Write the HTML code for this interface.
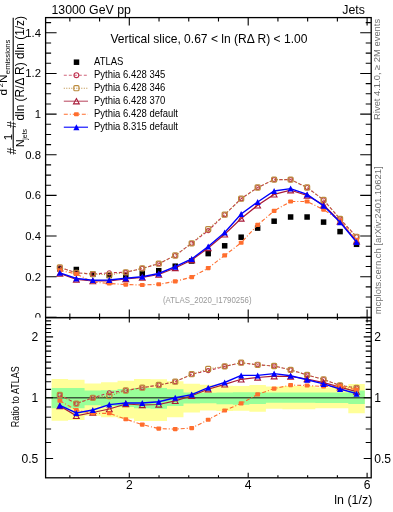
<!DOCTYPE html>
<html><head><meta charset="utf-8"><style>
html,body{margin:0;padding:0;background:#fff;width:393px;height:512px;overflow:hidden;position:relative}
text{font-family:"Liberation Sans",sans-serif}
</style></head><body>
<svg width="393" height="512" viewBox="0 0 393 512" style="position:absolute;left:0;top:0;will-change:transform">
<defs><clipPath id="cm"><rect x="45.6" y="17.6" width="325.6" height="300"/></clipPath><clipPath id="cr"><rect x="45.6" y="317.6" width="325.6" height="160.2"/></clipPath></defs>
<path d="M51.61,379.00 L68.09,379.00 L68.09,379.70 L84.57,379.70 L84.57,383.60 L101.06,383.60 L101.06,382.20 L117.54,382.20 L117.54,380.80 L134.02,380.80 L134.02,379.00 L150.51,379.00 L150.51,379.20 L166.99,379.20 L166.99,381.20 L183.47,381.20 L183.47,383.70 L199.96,383.70 L199.96,384.80 L216.44,384.80 L216.44,385.80 L232.92,385.80 L232.92,385.90 L249.40,385.90 L249.40,385.00 L265.89,385.00 L265.89,386.50 L282.37,386.50 L282.37,386.00 L298.85,386.00 L298.85,386.00 L315.34,386.00 L315.34,387.50 L331.82,387.50 L331.82,386.00 L348.30,386.00 L348.30,383.90 L364.79,383.90 L364.79,413.20 L348.30,413.20 L348.30,408.30 L331.82,408.30 L331.82,408.30 L315.34,408.30 L315.34,409.30 L298.85,409.30 L298.85,409.30 L282.37,409.30 L282.37,408.70 L265.89,408.70 L265.89,411.70 L249.40,411.70 L249.40,410.80 L232.92,410.80 L232.92,411.00 L216.44,411.00 L216.44,410.50 L199.96,410.50 L199.96,412.50 L183.47,412.50 L183.47,417.20 L166.99,417.20 L166.99,421.00 L150.51,421.00 L150.51,421.00 L134.02,421.00 L134.02,418.40 L117.54,418.40 L117.54,417.20 L101.06,417.20 L101.06,415.80 L84.57,415.80 L84.57,419.90 L68.09,419.90 L68.09,420.70 L51.61,420.70 Z" fill="#ffff99"/>
<path d="M51.61,388.00 L68.09,388.00 L68.09,388.00 L84.57,388.00 L84.57,390.60 L101.06,390.60 L101.06,390.20 L117.54,390.20 L117.54,389.00 L134.02,389.00 L134.02,388.10 L150.51,388.10 L150.51,388.10 L166.99,388.10 L166.99,389.30 L183.47,389.30 L183.47,392.50 L199.96,392.50 L199.96,392.80 L216.44,392.80 L216.44,392.60 L232.92,392.60 L232.92,392.20 L249.40,392.20 L249.40,392.20 L265.89,392.20 L265.89,392.40 L282.37,392.40 L282.37,392.40 L298.85,392.40 L298.85,392.40 L315.34,392.40 L315.34,392.40 L331.82,392.40 L331.82,392.40 L348.30,392.40 L348.30,390.60 L364.79,390.60 L364.79,404.10 L348.30,404.10 L348.30,403.00 L331.82,403.00 L331.82,403.00 L315.34,403.00 L315.34,402.80 L298.85,402.80 L298.85,402.80 L282.37,402.80 L282.37,402.80 L265.89,402.80 L265.89,404.10 L249.40,404.10 L249.40,404.70 L232.92,404.70 L232.92,404.20 L216.44,404.20 L216.44,403.20 L199.96,403.20 L199.96,403.50 L183.47,403.50 L183.47,406.00 L166.99,406.00 L166.99,408.80 L150.51,408.80 L150.51,408.30 L134.02,408.30 L134.02,407.00 L117.54,407.00 L117.54,406.00 L101.06,406.00 L101.06,405.20 L84.57,405.20 L84.57,408.30 L68.09,408.30 L68.09,408.30 L51.61,408.30 Z" fill="#99ff99"/>
<line x1="45.6" x2="371.2" y1="397.75" y2="397.75" stroke="#3c5c3c" stroke-width="1.4"/>
<g clip-path="url(#cr)">
<polyline points="59.85,395.00 76.33,403.60 92.82,397.80 109.30,392.80 125.78,390.50 142.27,387.70 158.75,385.00 175.23,381.70 191.71,374.20 208.20,370.60 224.68,366.40 241.16,362.70 257.65,364.80 274.13,366.00 290.61,369.90 307.10,375.00 323.58,379.50 340.06,385.40 356.54,388.00" fill="none" stroke="#c0304f" stroke-width="1.1" stroke-dasharray="3,2"/>
<circle cx="59.85" cy="395.00" r="2.00" fill="none" stroke="#c0304f" stroke-width="1.1"/>
<circle cx="76.33" cy="403.60" r="2.00" fill="none" stroke="#c0304f" stroke-width="1.1"/>
<circle cx="92.82" cy="397.80" r="2.00" fill="none" stroke="#c0304f" stroke-width="1.1"/>
<circle cx="109.30" cy="392.80" r="2.00" fill="none" stroke="#c0304f" stroke-width="1.1"/>
<circle cx="125.78" cy="390.50" r="2.00" fill="none" stroke="#c0304f" stroke-width="1.1"/>
<circle cx="142.27" cy="387.70" r="2.00" fill="none" stroke="#c0304f" stroke-width="1.1"/>
<circle cx="158.75" cy="385.00" r="2.00" fill="none" stroke="#c0304f" stroke-width="1.1"/>
<circle cx="175.23" cy="381.70" r="2.00" fill="none" stroke="#c0304f" stroke-width="1.1"/>
<circle cx="191.71" cy="374.20" r="2.00" fill="none" stroke="#c0304f" stroke-width="1.1"/>
<circle cx="208.20" cy="370.60" r="2.00" fill="none" stroke="#c0304f" stroke-width="1.1"/>
<circle cx="224.68" cy="366.40" r="2.00" fill="none" stroke="#c0304f" stroke-width="1.1"/>
<circle cx="241.16" cy="362.70" r="2.00" fill="none" stroke="#c0304f" stroke-width="1.1"/>
<circle cx="257.65" cy="364.80" r="2.00" fill="none" stroke="#c0304f" stroke-width="1.1"/>
<circle cx="274.13" cy="366.00" r="2.00" fill="none" stroke="#c0304f" stroke-width="1.1"/>
<circle cx="290.61" cy="369.90" r="2.00" fill="none" stroke="#c0304f" stroke-width="1.1"/>
<circle cx="307.10" cy="375.00" r="2.00" fill="none" stroke="#c0304f" stroke-width="1.1"/>
<circle cx="323.58" cy="379.50" r="2.00" fill="none" stroke="#c0304f" stroke-width="1.1"/>
<circle cx="340.06" cy="385.40" r="2.00" fill="none" stroke="#c0304f" stroke-width="1.1"/>
<circle cx="356.54" cy="388.00" r="2.00" fill="none" stroke="#c0304f" stroke-width="1.1"/>
<polyline points="59.85,395.00 76.33,403.60 92.82,397.80 109.30,396.00 125.78,390.50 142.27,387.70 158.75,385.00 175.23,381.70 191.71,374.20 208.20,369.00 224.68,366.40 241.16,362.70 257.65,364.80 274.13,366.00 290.61,369.90 307.10,375.00 323.58,379.50 340.06,385.40 356.54,388.00" fill="none" stroke="#bb8a3c" stroke-width="1.1" stroke-dasharray="1,1.5"/>
<rect x="57.30" y="392.45" width="5.10" height="5.10" rx="1.1" fill="none" stroke="#bb8a3c" stroke-width="1.2"/>
<rect x="73.78" y="401.05" width="5.10" height="5.10" rx="1.1" fill="none" stroke="#bb8a3c" stroke-width="1.2"/>
<rect x="90.27" y="395.25" width="5.10" height="5.10" rx="1.1" fill="none" stroke="#bb8a3c" stroke-width="1.2"/>
<rect x="106.75" y="393.45" width="5.10" height="5.10" rx="1.1" fill="none" stroke="#bb8a3c" stroke-width="1.2"/>
<rect x="123.23" y="387.95" width="5.10" height="5.10" rx="1.1" fill="none" stroke="#bb8a3c" stroke-width="1.2"/>
<rect x="139.72" y="385.15" width="5.10" height="5.10" rx="1.1" fill="none" stroke="#bb8a3c" stroke-width="1.2"/>
<rect x="156.20" y="382.45" width="5.10" height="5.10" rx="1.1" fill="none" stroke="#bb8a3c" stroke-width="1.2"/>
<rect x="172.68" y="379.15" width="5.10" height="5.10" rx="1.1" fill="none" stroke="#bb8a3c" stroke-width="1.2"/>
<rect x="189.16" y="371.65" width="5.10" height="5.10" rx="1.1" fill="none" stroke="#bb8a3c" stroke-width="1.2"/>
<rect x="205.65" y="366.45" width="5.10" height="5.10" rx="1.1" fill="none" stroke="#bb8a3c" stroke-width="1.2"/>
<rect x="222.13" y="363.85" width="5.10" height="5.10" rx="1.1" fill="none" stroke="#bb8a3c" stroke-width="1.2"/>
<rect x="238.61" y="360.15" width="5.10" height="5.10" rx="1.1" fill="none" stroke="#bb8a3c" stroke-width="1.2"/>
<rect x="255.10" y="362.25" width="5.10" height="5.10" rx="1.1" fill="none" stroke="#bb8a3c" stroke-width="1.2"/>
<rect x="271.58" y="363.45" width="5.10" height="5.10" rx="1.1" fill="none" stroke="#bb8a3c" stroke-width="1.2"/>
<rect x="288.06" y="367.35" width="5.10" height="5.10" rx="1.1" fill="none" stroke="#bb8a3c" stroke-width="1.2"/>
<rect x="304.55" y="372.45" width="5.10" height="5.10" rx="1.1" fill="none" stroke="#bb8a3c" stroke-width="1.2"/>
<rect x="321.03" y="376.95" width="5.10" height="5.10" rx="1.1" fill="none" stroke="#bb8a3c" stroke-width="1.2"/>
<rect x="337.51" y="382.85" width="5.10" height="5.10" rx="1.1" fill="none" stroke="#bb8a3c" stroke-width="1.2"/>
<rect x="353.99" y="385.45" width="5.10" height="5.10" rx="1.1" fill="none" stroke="#bb8a3c" stroke-width="1.2"/>
<polyline points="59.85,406.00 76.33,415.80 92.82,412.50 109.30,409.00 125.78,404.00 142.27,405.00 158.75,404.50 175.23,400.90 191.71,395.70 208.20,389.20 224.68,384.30 241.16,379.30 257.65,377.50 274.13,376.20 290.61,376.50 307.10,379.00 323.58,382.60 340.06,387.20 356.54,391.60" fill="none" stroke="#a81a38" stroke-width="1.2"/>
<path d="M59.85,403.35 L62.75,408.65 L56.95,408.65 Z" fill="none" stroke="#a81a38" stroke-width="1.1"/>
<path d="M76.33,413.15 L79.23,418.45 L73.43,418.45 Z" fill="none" stroke="#a81a38" stroke-width="1.1"/>
<path d="M92.82,409.85 L95.72,415.15 L89.92,415.15 Z" fill="none" stroke="#a81a38" stroke-width="1.1"/>
<path d="M109.30,406.35 L112.20,411.65 L106.40,411.65 Z" fill="none" stroke="#a81a38" stroke-width="1.1"/>
<path d="M125.78,401.35 L128.68,406.65 L122.88,406.65 Z" fill="none" stroke="#a81a38" stroke-width="1.1"/>
<path d="M142.27,402.35 L145.17,407.65 L139.37,407.65 Z" fill="none" stroke="#a81a38" stroke-width="1.1"/>
<path d="M158.75,401.85 L161.65,407.15 L155.85,407.15 Z" fill="none" stroke="#a81a38" stroke-width="1.1"/>
<path d="M175.23,398.25 L178.13,403.55 L172.33,403.55 Z" fill="none" stroke="#a81a38" stroke-width="1.1"/>
<path d="M191.71,393.05 L194.61,398.35 L188.81,398.35 Z" fill="none" stroke="#a81a38" stroke-width="1.1"/>
<path d="M208.20,386.55 L211.10,391.85 L205.30,391.85 Z" fill="none" stroke="#a81a38" stroke-width="1.1"/>
<path d="M224.68,381.65 L227.58,386.95 L221.78,386.95 Z" fill="none" stroke="#a81a38" stroke-width="1.1"/>
<path d="M241.16,376.65 L244.06,381.95 L238.26,381.95 Z" fill="none" stroke="#a81a38" stroke-width="1.1"/>
<path d="M257.65,374.85 L260.55,380.15 L254.75,380.15 Z" fill="none" stroke="#a81a38" stroke-width="1.1"/>
<path d="M274.13,373.55 L277.03,378.85 L271.23,378.85 Z" fill="none" stroke="#a81a38" stroke-width="1.1"/>
<path d="M290.61,373.85 L293.51,379.15 L287.71,379.15 Z" fill="none" stroke="#a81a38" stroke-width="1.1"/>
<path d="M307.10,376.35 L310.00,381.65 L304.20,381.65 Z" fill="none" stroke="#a81a38" stroke-width="1.1"/>
<path d="M323.58,379.95 L326.48,385.25 L320.68,385.25 Z" fill="none" stroke="#a81a38" stroke-width="1.1"/>
<path d="M340.06,384.55 L342.96,389.85 L337.16,389.85 Z" fill="none" stroke="#a81a38" stroke-width="1.1"/>
<path d="M356.54,388.95 L359.44,394.25 L353.64,394.25 Z" fill="none" stroke="#a81a38" stroke-width="1.1"/>
<polyline points="59.85,400.80 76.33,410.10 92.82,413.30 109.30,413.30 125.78,419.20 142.27,424.60 158.75,428.60 175.23,429.10 191.71,428.10 208.20,419.80 224.68,410.50 241.16,403.40 257.65,394.40 274.13,388.60 290.61,385.10 307.10,385.50 323.58,386.50 340.06,386.00 356.54,389.80" fill="none" stroke="#ff6e2e" stroke-width="1.15" stroke-dasharray="4,2,1,2"/>
<rect x="57.45" y="398.75" width="4.80" height="4.10" rx="0.8" fill="#ff6e2e"/>
<rect x="73.93" y="408.05" width="4.80" height="4.10" rx="0.8" fill="#ff6e2e"/>
<rect x="90.42" y="411.25" width="4.80" height="4.10" rx="0.8" fill="#ff6e2e"/>
<rect x="106.90" y="411.25" width="4.80" height="4.10" rx="0.8" fill="#ff6e2e"/>
<rect x="123.38" y="417.15" width="4.80" height="4.10" rx="0.8" fill="#ff6e2e"/>
<rect x="139.87" y="422.55" width="4.80" height="4.10" rx="0.8" fill="#ff6e2e"/>
<rect x="156.35" y="426.55" width="4.80" height="4.10" rx="0.8" fill="#ff6e2e"/>
<rect x="172.83" y="427.05" width="4.80" height="4.10" rx="0.8" fill="#ff6e2e"/>
<rect x="189.31" y="426.05" width="4.80" height="4.10" rx="0.8" fill="#ff6e2e"/>
<rect x="205.80" y="417.75" width="4.80" height="4.10" rx="0.8" fill="#ff6e2e"/>
<rect x="222.28" y="408.45" width="4.80" height="4.10" rx="0.8" fill="#ff6e2e"/>
<rect x="238.76" y="401.35" width="4.80" height="4.10" rx="0.8" fill="#ff6e2e"/>
<rect x="255.25" y="392.35" width="4.80" height="4.10" rx="0.8" fill="#ff6e2e"/>
<rect x="271.73" y="386.55" width="4.80" height="4.10" rx="0.8" fill="#ff6e2e"/>
<rect x="288.21" y="383.05" width="4.80" height="4.10" rx="0.8" fill="#ff6e2e"/>
<rect x="304.70" y="383.45" width="4.80" height="4.10" rx="0.8" fill="#ff6e2e"/>
<rect x="321.18" y="384.45" width="4.80" height="4.10" rx="0.8" fill="#ff6e2e"/>
<rect x="337.66" y="383.95" width="4.80" height="4.10" rx="0.8" fill="#ff6e2e"/>
<rect x="354.14" y="387.75" width="4.80" height="4.10" rx="0.8" fill="#ff6e2e"/>
<polyline points="59.85,405.40 76.33,413.00 92.82,410.00 109.30,404.60 125.78,403.00 142.27,403.00 158.75,401.80 175.23,397.80 191.71,394.60 208.20,387.70 224.68,382.50 241.16,375.40 257.65,375.40 274.13,373.60 290.61,375.80 307.10,379.70 323.58,383.90 340.06,389.00 356.54,393.70" fill="none" stroke="#0000ff" stroke-width="1.4"/>
<path d="M59.85,402.40 L62.90,408.40 L56.80,408.40 Z" fill="#0000ff"/>
<path d="M76.33,410.00 L79.38,416.00 L73.28,416.00 Z" fill="#0000ff"/>
<path d="M92.82,407.00 L95.87,413.00 L89.77,413.00 Z" fill="#0000ff"/>
<path d="M109.30,401.60 L112.35,407.60 L106.25,407.60 Z" fill="#0000ff"/>
<path d="M125.78,400.00 L128.83,406.00 L122.73,406.00 Z" fill="#0000ff"/>
<path d="M142.27,400.00 L145.32,406.00 L139.22,406.00 Z" fill="#0000ff"/>
<path d="M158.75,398.80 L161.80,404.80 L155.70,404.80 Z" fill="#0000ff"/>
<path d="M175.23,394.80 L178.28,400.80 L172.18,400.80 Z" fill="#0000ff"/>
<path d="M191.71,391.60 L194.76,397.60 L188.66,397.60 Z" fill="#0000ff"/>
<path d="M208.20,384.70 L211.25,390.70 L205.15,390.70 Z" fill="#0000ff"/>
<path d="M224.68,379.50 L227.73,385.50 L221.63,385.50 Z" fill="#0000ff"/>
<path d="M241.16,372.40 L244.21,378.40 L238.11,378.40 Z" fill="#0000ff"/>
<path d="M257.65,372.40 L260.70,378.40 L254.60,378.40 Z" fill="#0000ff"/>
<path d="M274.13,370.60 L277.18,376.60 L271.08,376.60 Z" fill="#0000ff"/>
<path d="M290.61,372.80 L293.66,378.80 L287.56,378.80 Z" fill="#0000ff"/>
<path d="M307.10,376.70 L310.15,382.70 L304.05,382.70 Z" fill="#0000ff"/>
<path d="M323.58,380.90 L326.63,386.90 L320.53,386.90 Z" fill="#0000ff"/>
<path d="M340.06,386.00 L343.11,392.00 L337.01,392.00 Z" fill="#0000ff"/>
<path d="M356.54,390.70 L359.59,396.70 L353.49,396.70 Z" fill="#0000ff"/>
</g>
<g clip-path="url(#cm)">
<rect x="57.10" y="266.15" width="5.50" height="5.50" fill="#000"/>
<rect x="73.58" y="266.75" width="5.50" height="5.50" fill="#000"/>
<rect x="90.07" y="271.55" width="5.50" height="5.50" fill="#000"/>
<rect x="106.55" y="272.75" width="5.50" height="5.50" fill="#000"/>
<rect x="123.03" y="272.55" width="5.50" height="5.50" fill="#000"/>
<rect x="139.52" y="270.55" width="5.50" height="5.50" fill="#000"/>
<rect x="156.00" y="267.95" width="5.50" height="5.50" fill="#000"/>
<rect x="172.48" y="263.45" width="5.50" height="5.50" fill="#000"/>
<rect x="188.96" y="258.25" width="5.50" height="5.50" fill="#000"/>
<rect x="205.45" y="250.85" width="5.50" height="5.50" fill="#000"/>
<rect x="221.93" y="243.05" width="5.50" height="5.50" fill="#000"/>
<rect x="238.41" y="234.45" width="5.50" height="5.50" fill="#000"/>
<rect x="254.90" y="225.35" width="5.50" height="5.50" fill="#000"/>
<rect x="271.38" y="218.45" width="5.50" height="5.50" fill="#000"/>
<rect x="287.86" y="214.25" width="5.50" height="5.50" fill="#000"/>
<rect x="304.35" y="214.25" width="5.50" height="5.50" fill="#000"/>
<rect x="320.83" y="219.35" width="5.50" height="5.50" fill="#000"/>
<rect x="337.31" y="228.85" width="5.50" height="5.50" fill="#000"/>
<rect x="353.79" y="241.55" width="5.50" height="5.50" fill="#000"/>
<polyline points="59.85,267.50 76.33,272.80 92.82,274.10 109.30,272.80 125.78,272.30 142.27,268.40 158.75,263.70 175.23,255.50 191.71,243.30 208.20,230.60 224.68,214.70 241.16,198.70 257.65,187.50 274.13,179.60 290.61,179.60 307.10,187.50 323.58,200.00 340.06,219.00 356.54,236.80" fill="none" stroke="#c0304f" stroke-width="1.1" stroke-dasharray="3,2"/>
<circle cx="59.85" cy="267.50" r="2.00" fill="none" stroke="#c0304f" stroke-width="1.1"/>
<circle cx="76.33" cy="272.80" r="2.00" fill="none" stroke="#c0304f" stroke-width="1.1"/>
<circle cx="92.82" cy="274.10" r="2.00" fill="none" stroke="#c0304f" stroke-width="1.1"/>
<circle cx="109.30" cy="272.80" r="2.00" fill="none" stroke="#c0304f" stroke-width="1.1"/>
<circle cx="125.78" cy="272.30" r="2.00" fill="none" stroke="#c0304f" stroke-width="1.1"/>
<circle cx="142.27" cy="268.40" r="2.00" fill="none" stroke="#c0304f" stroke-width="1.1"/>
<circle cx="158.75" cy="263.70" r="2.00" fill="none" stroke="#c0304f" stroke-width="1.1"/>
<circle cx="175.23" cy="255.50" r="2.00" fill="none" stroke="#c0304f" stroke-width="1.1"/>
<circle cx="191.71" cy="243.30" r="2.00" fill="none" stroke="#c0304f" stroke-width="1.1"/>
<circle cx="208.20" cy="230.60" r="2.00" fill="none" stroke="#c0304f" stroke-width="1.1"/>
<circle cx="224.68" cy="214.70" r="2.00" fill="none" stroke="#c0304f" stroke-width="1.1"/>
<circle cx="241.16" cy="198.70" r="2.00" fill="none" stroke="#c0304f" stroke-width="1.1"/>
<circle cx="257.65" cy="187.50" r="2.00" fill="none" stroke="#c0304f" stroke-width="1.1"/>
<circle cx="274.13" cy="179.60" r="2.00" fill="none" stroke="#c0304f" stroke-width="1.1"/>
<circle cx="290.61" cy="179.60" r="2.00" fill="none" stroke="#c0304f" stroke-width="1.1"/>
<circle cx="307.10" cy="187.50" r="2.00" fill="none" stroke="#c0304f" stroke-width="1.1"/>
<circle cx="323.58" cy="200.00" r="2.00" fill="none" stroke="#c0304f" stroke-width="1.1"/>
<circle cx="340.06" cy="219.00" r="2.00" fill="none" stroke="#c0304f" stroke-width="1.1"/>
<circle cx="356.54" cy="236.80" r="2.00" fill="none" stroke="#c0304f" stroke-width="1.1"/>
<polyline points="59.85,267.50 76.33,272.80 92.82,274.10 109.30,274.80 125.78,272.30 142.27,268.40 158.75,263.70 175.23,255.50 191.71,243.30 208.20,229.20 224.68,214.70 241.16,198.70 257.65,187.50 274.13,179.60 290.61,179.60 307.10,187.50 323.58,200.00 340.06,219.00 356.54,236.80" fill="none" stroke="#bb8a3c" stroke-width="1.1" stroke-dasharray="1,1.5"/>
<rect x="57.30" y="264.95" width="5.10" height="5.10" rx="1.1" fill="none" stroke="#bb8a3c" stroke-width="1.2"/>
<rect x="73.78" y="270.25" width="5.10" height="5.10" rx="1.1" fill="none" stroke="#bb8a3c" stroke-width="1.2"/>
<rect x="90.27" y="271.55" width="5.10" height="5.10" rx="1.1" fill="none" stroke="#bb8a3c" stroke-width="1.2"/>
<rect x="106.75" y="272.25" width="5.10" height="5.10" rx="1.1" fill="none" stroke="#bb8a3c" stroke-width="1.2"/>
<rect x="123.23" y="269.75" width="5.10" height="5.10" rx="1.1" fill="none" stroke="#bb8a3c" stroke-width="1.2"/>
<rect x="139.72" y="265.85" width="5.10" height="5.10" rx="1.1" fill="none" stroke="#bb8a3c" stroke-width="1.2"/>
<rect x="156.20" y="261.15" width="5.10" height="5.10" rx="1.1" fill="none" stroke="#bb8a3c" stroke-width="1.2"/>
<rect x="172.68" y="252.95" width="5.10" height="5.10" rx="1.1" fill="none" stroke="#bb8a3c" stroke-width="1.2"/>
<rect x="189.16" y="240.75" width="5.10" height="5.10" rx="1.1" fill="none" stroke="#bb8a3c" stroke-width="1.2"/>
<rect x="205.65" y="226.65" width="5.10" height="5.10" rx="1.1" fill="none" stroke="#bb8a3c" stroke-width="1.2"/>
<rect x="222.13" y="212.15" width="5.10" height="5.10" rx="1.1" fill="none" stroke="#bb8a3c" stroke-width="1.2"/>
<rect x="238.61" y="196.15" width="5.10" height="5.10" rx="1.1" fill="none" stroke="#bb8a3c" stroke-width="1.2"/>
<rect x="255.10" y="184.95" width="5.10" height="5.10" rx="1.1" fill="none" stroke="#bb8a3c" stroke-width="1.2"/>
<rect x="271.58" y="177.05" width="5.10" height="5.10" rx="1.1" fill="none" stroke="#bb8a3c" stroke-width="1.2"/>
<rect x="288.06" y="177.05" width="5.10" height="5.10" rx="1.1" fill="none" stroke="#bb8a3c" stroke-width="1.2"/>
<rect x="304.55" y="184.95" width="5.10" height="5.10" rx="1.1" fill="none" stroke="#bb8a3c" stroke-width="1.2"/>
<rect x="321.03" y="197.45" width="5.10" height="5.10" rx="1.1" fill="none" stroke="#bb8a3c" stroke-width="1.2"/>
<rect x="337.51" y="216.45" width="5.10" height="5.10" rx="1.1" fill="none" stroke="#bb8a3c" stroke-width="1.2"/>
<rect x="353.99" y="234.25" width="5.10" height="5.10" rx="1.1" fill="none" stroke="#bb8a3c" stroke-width="1.2"/>
<polyline points="59.85,273.50 76.33,279.50 92.82,281.00 109.30,281.00 125.78,279.00 142.27,277.50 158.75,274.50 175.23,268.00 191.71,260.00 208.20,248.00 224.68,234.30 241.16,218.50 257.65,205.30 274.13,194.40 290.61,190.20 307.10,195.50 323.58,205.00 340.06,221.50 356.54,241.30" fill="none" stroke="#a81a38" stroke-width="1.2"/>
<path d="M59.85,270.85 L62.75,276.15 L56.95,276.15 Z" fill="none" stroke="#a81a38" stroke-width="1.1"/>
<path d="M76.33,276.85 L79.23,282.15 L73.43,282.15 Z" fill="none" stroke="#a81a38" stroke-width="1.1"/>
<path d="M92.82,278.35 L95.72,283.65 L89.92,283.65 Z" fill="none" stroke="#a81a38" stroke-width="1.1"/>
<path d="M109.30,278.35 L112.20,283.65 L106.40,283.65 Z" fill="none" stroke="#a81a38" stroke-width="1.1"/>
<path d="M125.78,276.35 L128.68,281.65 L122.88,281.65 Z" fill="none" stroke="#a81a38" stroke-width="1.1"/>
<path d="M142.27,274.85 L145.17,280.15 L139.37,280.15 Z" fill="none" stroke="#a81a38" stroke-width="1.1"/>
<path d="M158.75,271.85 L161.65,277.15 L155.85,277.15 Z" fill="none" stroke="#a81a38" stroke-width="1.1"/>
<path d="M175.23,265.35 L178.13,270.65 L172.33,270.65 Z" fill="none" stroke="#a81a38" stroke-width="1.1"/>
<path d="M191.71,257.35 L194.61,262.65 L188.81,262.65 Z" fill="none" stroke="#a81a38" stroke-width="1.1"/>
<path d="M208.20,245.35 L211.10,250.65 L205.30,250.65 Z" fill="none" stroke="#a81a38" stroke-width="1.1"/>
<path d="M224.68,231.65 L227.58,236.95 L221.78,236.95 Z" fill="none" stroke="#a81a38" stroke-width="1.1"/>
<path d="M241.16,215.85 L244.06,221.15 L238.26,221.15 Z" fill="none" stroke="#a81a38" stroke-width="1.1"/>
<path d="M257.65,202.65 L260.55,207.95 L254.75,207.95 Z" fill="none" stroke="#a81a38" stroke-width="1.1"/>
<path d="M274.13,191.75 L277.03,197.05 L271.23,197.05 Z" fill="none" stroke="#a81a38" stroke-width="1.1"/>
<path d="M290.61,187.55 L293.51,192.85 L287.71,192.85 Z" fill="none" stroke="#a81a38" stroke-width="1.1"/>
<path d="M307.10,192.85 L310.00,198.15 L304.20,198.15 Z" fill="none" stroke="#a81a38" stroke-width="1.1"/>
<path d="M323.58,202.35 L326.48,207.65 L320.68,207.65 Z" fill="none" stroke="#a81a38" stroke-width="1.1"/>
<path d="M340.06,218.85 L342.96,224.15 L337.16,224.15 Z" fill="none" stroke="#a81a38" stroke-width="1.1"/>
<path d="M356.54,238.65 L359.44,243.95 L353.64,243.95 Z" fill="none" stroke="#a81a38" stroke-width="1.1"/>
<polyline points="59.85,270.30 76.33,274.00 92.82,282.00 109.30,283.50 125.78,284.60 142.27,285.00 158.75,284.30 175.23,281.40 191.71,277.10 208.20,268.10 224.68,255.40 241.16,242.70 257.65,224.90 274.13,210.90 290.61,201.50 307.10,201.50 323.58,209.60 340.06,220.60 356.54,240.00" fill="none" stroke="#ff6e2e" stroke-width="1.15" stroke-dasharray="4,2,1,2"/>
<rect x="57.45" y="268.25" width="4.80" height="4.10" rx="0.8" fill="#ff6e2e"/>
<rect x="73.93" y="271.95" width="4.80" height="4.10" rx="0.8" fill="#ff6e2e"/>
<rect x="90.42" y="279.95" width="4.80" height="4.10" rx="0.8" fill="#ff6e2e"/>
<rect x="106.90" y="281.45" width="4.80" height="4.10" rx="0.8" fill="#ff6e2e"/>
<rect x="123.38" y="282.55" width="4.80" height="4.10" rx="0.8" fill="#ff6e2e"/>
<rect x="139.87" y="282.95" width="4.80" height="4.10" rx="0.8" fill="#ff6e2e"/>
<rect x="156.35" y="282.25" width="4.80" height="4.10" rx="0.8" fill="#ff6e2e"/>
<rect x="172.83" y="279.35" width="4.80" height="4.10" rx="0.8" fill="#ff6e2e"/>
<rect x="189.31" y="275.05" width="4.80" height="4.10" rx="0.8" fill="#ff6e2e"/>
<rect x="205.80" y="266.05" width="4.80" height="4.10" rx="0.8" fill="#ff6e2e"/>
<rect x="222.28" y="253.35" width="4.80" height="4.10" rx="0.8" fill="#ff6e2e"/>
<rect x="238.76" y="240.65" width="4.80" height="4.10" rx="0.8" fill="#ff6e2e"/>
<rect x="255.25" y="222.85" width="4.80" height="4.10" rx="0.8" fill="#ff6e2e"/>
<rect x="271.73" y="208.85" width="4.80" height="4.10" rx="0.8" fill="#ff6e2e"/>
<rect x="288.21" y="199.45" width="4.80" height="4.10" rx="0.8" fill="#ff6e2e"/>
<rect x="304.70" y="199.45" width="4.80" height="4.10" rx="0.8" fill="#ff6e2e"/>
<rect x="321.18" y="207.55" width="4.80" height="4.10" rx="0.8" fill="#ff6e2e"/>
<rect x="337.66" y="218.55" width="4.80" height="4.10" rx="0.8" fill="#ff6e2e"/>
<rect x="354.14" y="237.95" width="4.80" height="4.10" rx="0.8" fill="#ff6e2e"/>
<polyline points="59.85,272.80 76.33,278.50 92.82,280.20 109.30,280.00 125.78,278.20 142.27,276.70 158.75,273.50 175.23,266.70 191.71,259.00 208.20,246.50 224.68,232.50 241.16,214.00 257.65,202.00 274.13,191.00 290.61,188.60 307.10,194.40 323.58,205.80 340.06,222.30 356.54,242.00" fill="none" stroke="#0000ff" stroke-width="1.4"/>
<path d="M59.85,269.80 L62.90,275.80 L56.80,275.80 Z" fill="#0000ff"/>
<path d="M76.33,275.50 L79.38,281.50 L73.28,281.50 Z" fill="#0000ff"/>
<path d="M92.82,277.20 L95.87,283.20 L89.77,283.20 Z" fill="#0000ff"/>
<path d="M109.30,277.00 L112.35,283.00 L106.25,283.00 Z" fill="#0000ff"/>
<path d="M125.78,275.20 L128.83,281.20 L122.73,281.20 Z" fill="#0000ff"/>
<path d="M142.27,273.70 L145.32,279.70 L139.22,279.70 Z" fill="#0000ff"/>
<path d="M158.75,270.50 L161.80,276.50 L155.70,276.50 Z" fill="#0000ff"/>
<path d="M175.23,263.70 L178.28,269.70 L172.18,269.70 Z" fill="#0000ff"/>
<path d="M191.71,256.00 L194.76,262.00 L188.66,262.00 Z" fill="#0000ff"/>
<path d="M208.20,243.50 L211.25,249.50 L205.15,249.50 Z" fill="#0000ff"/>
<path d="M224.68,229.50 L227.73,235.50 L221.63,235.50 Z" fill="#0000ff"/>
<path d="M241.16,211.00 L244.21,217.00 L238.11,217.00 Z" fill="#0000ff"/>
<path d="M257.65,199.00 L260.70,205.00 L254.60,205.00 Z" fill="#0000ff"/>
<path d="M274.13,188.00 L277.18,194.00 L271.08,194.00 Z" fill="#0000ff"/>
<path d="M290.61,185.60 L293.66,191.60 L287.56,191.60 Z" fill="#0000ff"/>
<path d="M307.10,191.40 L310.15,197.40 L304.05,197.40 Z" fill="#0000ff"/>
<path d="M323.58,202.80 L326.63,208.80 L320.53,208.80 Z" fill="#0000ff"/>
<path d="M340.06,219.30 L343.11,225.30 L337.01,225.30 Z" fill="#0000ff"/>
<path d="M356.54,239.00 L359.59,245.00 L353.49,245.00 Z" fill="#0000ff"/>
</g>
<rect x="45.6" y="17.6" width="325.6" height="300" fill="none" stroke="#000" stroke-width="1.3"/>
<rect x="45.6" y="317.6" width="325.6" height="160.2" fill="none" stroke="#000" stroke-width="1.3"/>
<path d="M45.6,317.35h11 M371.2,317.35h-11 M45.6,307.19h5.5 M371.2,307.19h-5.5 M45.6,297.03h5.5 M371.2,297.03h-5.5 M45.6,286.86h5.5 M371.2,286.86h-5.5 M45.6,276.70h11 M371.2,276.70h-11 M45.6,266.54h5.5 M371.2,266.54h-5.5 M45.6,256.38h5.5 M371.2,256.38h-5.5 M45.6,246.21h5.5 M371.2,246.21h-5.5 M45.6,236.05h11 M371.2,236.05h-11 M45.6,225.89h5.5 M371.2,225.89h-5.5 M45.6,215.73h5.5 M371.2,215.73h-5.5 M45.6,205.56h5.5 M371.2,205.56h-5.5 M45.6,195.40h11 M371.2,195.40h-11 M45.6,185.24h5.5 M371.2,185.24h-5.5 M45.6,175.08h5.5 M371.2,175.08h-5.5 M45.6,164.91h5.5 M371.2,164.91h-5.5 M45.6,154.75h11 M371.2,154.75h-11 M45.6,144.59h5.5 M371.2,144.59h-5.5 M45.6,134.43h5.5 M371.2,134.43h-5.5 M45.6,124.26h5.5 M371.2,124.26h-5.5 M45.6,114.10h11 M371.2,114.10h-11 M45.6,103.94h5.5 M371.2,103.94h-5.5 M45.6,93.78h5.5 M371.2,93.78h-5.5 M45.6,83.61h5.5 M371.2,83.61h-5.5 M45.6,73.45h11 M371.2,73.45h-11 M45.6,63.29h5.5 M371.2,63.29h-5.5 M45.6,53.12h5.5 M371.2,53.12h-5.5 M45.6,42.96h5.5 M371.2,42.96h-5.5 M45.6,32.80h11 M371.2,32.80h-11 M45.6,22.64h5.5 M371.2,22.64h-5.5 M45.6,458.55h7.5 M371.2,458.55h-7.5 M45.6,442.54h5.5 M371.2,442.54h-5.5 M45.6,429.01h5.5 M371.2,429.01h-5.5 M45.6,417.29h5.5 M371.2,417.29h-5.5 M45.6,406.95h5.5 M371.2,406.95h-5.5 M45.6,397.70h7.5 M371.2,397.70h-7.5 M45.6,389.33h5.5 M371.2,389.33h-5.5 M45.6,381.69h5.5 M371.2,381.69h-5.5 M45.6,374.67h5.5 M371.2,374.67h-5.5 M45.6,368.16h5.5 M371.2,368.16h-5.5 M45.6,362.11h5.5 M371.2,362.11h-5.5 M45.6,356.44h5.5 M371.2,356.44h-5.5 M45.6,351.12h5.5 M371.2,351.12h-5.5 M45.6,346.10h5.5 M371.2,346.10h-5.5 M45.6,341.35h5.5 M371.2,341.35h-5.5 M45.6,336.85h7.5 M371.2,336.85h-7.5 M45.6,332.57h5.5 M371.2,332.57h-5.5 M45.6,328.48h5.5 M371.2,328.48h-5.5 M45.6,324.58h5.5 M371.2,324.58h-5.5 M45.6,320.84h5.5 M371.2,320.84h-5.5 M69.85,17.6v4 M69.85,317.6v-4 M69.85,317.6v2.5 M69.85,477.8v-2.5 M99.58,17.6v4 M99.58,317.6v-4 M99.58,317.6v2.5 M99.58,477.8v-2.5 M129.30,17.6v8 M129.30,317.6v-8 M129.30,317.6v5 M129.30,477.8v-5 M159.03,17.6v4 M159.03,317.6v-4 M159.03,317.6v2.5 M159.03,477.8v-2.5 M188.75,17.6v4 M188.75,317.6v-4 M188.75,317.6v2.5 M188.75,477.8v-2.5 M218.48,17.6v4 M218.48,317.6v-4 M218.48,317.6v2.5 M218.48,477.8v-2.5 M248.20,17.6v8 M248.20,317.6v-8 M248.20,317.6v5 M248.20,477.8v-5 M277.93,17.6v4 M277.93,317.6v-4 M277.93,317.6v2.5 M277.93,477.8v-2.5 M307.65,17.6v4 M307.65,317.6v-4 M307.65,317.6v2.5 M307.65,477.8v-2.5 M337.38,17.6v4 M337.38,317.6v-4 M337.38,317.6v2.5 M337.38,477.8v-2.5 M367.10,17.6v8 M367.10,317.6v-8 M367.10,317.6v5 M367.10,477.8v-5" stroke="#000" stroke-width="1.1" fill="none"/>
<text x="41.00" y="321.35" font-size="11.3" text-anchor="end" fill="#000" font-family="Liberation Sans, sans-serif" >0</text>
<text x="41.00" y="280.70" font-size="11.3" text-anchor="end" fill="#000" font-family="Liberation Sans, sans-serif" >0.2</text>
<text x="41.00" y="240.05" font-size="11.3" text-anchor="end" fill="#000" font-family="Liberation Sans, sans-serif" >0.4</text>
<text x="41.00" y="199.40" font-size="11.3" text-anchor="end" fill="#000" font-family="Liberation Sans, sans-serif" >0.6</text>
<text x="41.00" y="158.75" font-size="11.3" text-anchor="end" fill="#000" font-family="Liberation Sans, sans-serif" >0.8</text>
<text x="41.00" y="118.10" font-size="11.3" text-anchor="end" fill="#000" font-family="Liberation Sans, sans-serif" >1</text>
<text x="41.00" y="77.45" font-size="11.3" text-anchor="end" fill="#000" font-family="Liberation Sans, sans-serif" >1.2</text>
<text x="41.00" y="36.80" font-size="11.3" text-anchor="end" fill="#000" font-family="Liberation Sans, sans-serif" >1.4</text>
<rect x="0" y="317.6" width="44.9" height="8" fill="#fff"/>
<text x="38.30" y="341.15" font-size="12.1" text-anchor="end" fill="#000" font-family="Liberation Sans, sans-serif" >2</text>
<text x="374.20" y="341.15" font-size="12.1" text-anchor="start" fill="#000" font-family="Liberation Sans, sans-serif" >2</text>
<text x="38.30" y="402.00" font-size="12.1" text-anchor="end" fill="#000" font-family="Liberation Sans, sans-serif" >1</text>
<text x="374.20" y="402.00" font-size="12.1" text-anchor="start" fill="#000" font-family="Liberation Sans, sans-serif" >1</text>
<text x="38.30" y="462.85" font-size="12.1" text-anchor="end" fill="#000" font-family="Liberation Sans, sans-serif" >0.5</text>
<text x="374.20" y="462.85" font-size="12.1" text-anchor="start" fill="#000" font-family="Liberation Sans, sans-serif" >0.5</text>
<text x="129.30" y="489.30" font-size="12.1" text-anchor="middle" fill="#000" font-family="Liberation Sans, sans-serif" >2</text>
<text x="248.20" y="489.30" font-size="12.1" text-anchor="middle" fill="#000" font-family="Liberation Sans, sans-serif" >4</text>
<text x="367.10" y="489.30" font-size="12.1" text-anchor="middle" fill="#000" font-family="Liberation Sans, sans-serif" >6</text>
<text x="334.30" y="504.20" font-size="12.7" text-anchor="start" fill="#000" font-family="Liberation Sans, sans-serif" textLength="38" lengthAdjust="spacingAndGlyphs">ln (1/z)</text>
<text x="51.50" y="13.50" font-size="12.3" text-anchor="start" fill="#000" font-family="Liberation Sans, sans-serif" >13000 GeV pp</text>
<text x="364.80" y="13.80" font-size="12.3" text-anchor="end" fill="#000" font-family="Liberation Sans, sans-serif" >Jets</text>
<text x="110.40" y="43.00" font-size="12.1" text-anchor="start" fill="#000" font-family="Liberation Sans, sans-serif" textLength="197" lengthAdjust="spacingAndGlyphs">Vertical slice, 0.67 &lt; ln (RΔ R) &lt; 1.00</text>
<text x="163.00" y="303.00" font-size="8.8" text-anchor="start" fill="#999999" font-family="Liberation Sans, sans-serif" textLength="88.5" lengthAdjust="spacingAndGlyphs">(ATLAS_2020_I1790256)</text>
<text transform="translate(379.8,119.9) rotate(-90)" font-size="8.9" fill="#707070" textLength="101" lengthAdjust="spacingAndGlyphs" font-family="Liberation Sans, sans-serif">Rivet 4.1.0, ≥ 2M events</text>
<text transform="translate(381.3,314.3) rotate(-90)" font-size="8.9" fill="#707070" textLength="148" lengthAdjust="spacingAndGlyphs" font-family="Liberation Sans, sans-serif">mcplots.cern.ch [arXiv:2401.10621]</text>
<text transform="translate(19.3,396.7) rotate(-90)" font-size="10" text-anchor="middle" textLength="61" lengthAdjust="spacingAndGlyphs" fill="#000" font-family="Liberation Sans, sans-serif">Ratio to ATLAS</text>
<g font-family="Liberation Sans, sans-serif" fill="#000">
<text transform="translate(24.2,120.6) rotate(-90)" font-size="12.1" textLength="104.6" lengthAdjust="spacingAndGlyphs">dln (R/Δ R) dln (1/z)</text>
<line x1="13.2" y1="17.7" x2="13.2" y2="120.6" stroke="#000" stroke-width="1.1"/>
<text transform="translate(7.2,95.6) rotate(-90)" font-size="11.8">d</text>
<text transform="translate(2.6,87.6) rotate(-90)" font-size="8">2</text>
<text transform="translate(6.8,83) rotate(-90)" font-size="11.8">N</text>
<text transform="translate(10.0,74.2) rotate(-90)" font-size="7.8">emissions</text>
<text transform="translate(16.4,128.1) rotate(-90)" font-size="12.3">#</text>
<line x1="13.2" y1="127.3" x2="13.2" y2="148" stroke="#000" stroke-width="1.1"/>
<text transform="translate(12.3,140.3) rotate(-90)" font-size="11.5">1</text>
<text transform="translate(23.7,147) rotate(-90)" font-size="10.5">N</text>
<text transform="translate(27.2,139.8) rotate(-90)" font-size="7">jets</text>
<text transform="translate(16.4,154.6) rotate(-90)" font-size="12.3">#</text>
</g>
<text transform="translate(94.0,65.05) scale(0.95,1)" font-size="10" fill="#000" font-family="Liberation Sans, sans-serif">ATLAS</text>
<rect x="73.75" y="59.45" width="5.50" height="5.50" fill="#000"/>
<text transform="translate(94.0,78.05) scale(0.95,1)" font-size="10" fill="#000" font-family="Liberation Sans, sans-serif">Pythia 6.428 345</text>
<line x1="63.8" x2="88" y1="75.20" y2="75.20" stroke="#c0304f" stroke-width="1.1" stroke-dasharray="3,2" stroke-opacity="0.75"/>
<circle cx="76.40" cy="75.20" r="2.40" fill="none" stroke="#c0304f" stroke-width="1.1"/>
<text transform="translate(94.0,91.05) scale(0.95,1)" font-size="10" fill="#000" font-family="Liberation Sans, sans-serif">Pythia 6.428 346</text>
<line x1="63.8" x2="88" y1="88.20" y2="88.20" stroke="#bb8a3c" stroke-width="1.1" stroke-dasharray="1,1.5"/>
<rect x="73.85" y="85.65" width="5.10" height="5.10" rx="1.1" fill="none" stroke="#bb8a3c" stroke-width="1.2"/>
<text transform="translate(94.0,104.05) scale(0.95,1)" font-size="10" fill="#000" font-family="Liberation Sans, sans-serif">Pythia 6.428 370</text>
<line x1="63.8" x2="88" y1="101.20" y2="101.20" stroke="#a81a38" stroke-width="1.1" stroke-opacity="0.75"/>
<path d="M76.40,98.55 L79.30,103.85 L73.50,103.85 Z" fill="none" stroke="#a81a38" stroke-width="1.1"/>
<text transform="translate(94.0,117.05) scale(0.95,1)" font-size="10" fill="#000" font-family="Liberation Sans, sans-serif">Pythia 6.428 default</text>
<line x1="63.8" x2="88" y1="114.20" y2="114.20" stroke="#ff6e2e" stroke-width="1.1" stroke-dasharray="4,2,1,2"/>
<rect x="74.00" y="112.15" width="4.80" height="4.10" rx="0.8" fill="#ff6e2e"/>
<text transform="translate(94.0,130.05) scale(0.95,1)" font-size="10" fill="#000" font-family="Liberation Sans, sans-serif">Pythia 8.315 default</text>
<line x1="63.8" x2="88" y1="127.20" y2="127.20" stroke="#0000ff" stroke-width="1.1"/>
<path d="M76.40,124.20 L79.45,130.20 L73.35,130.20 Z" fill="#0000ff"/>
</svg>
</body></html>
